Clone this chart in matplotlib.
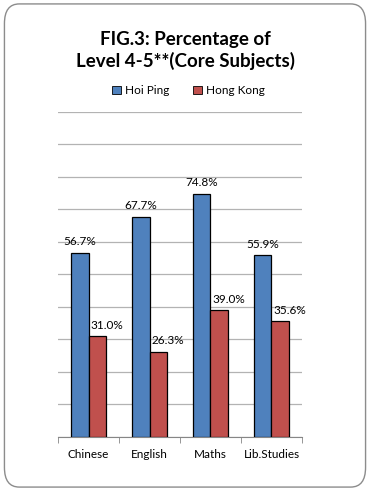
import numpy as np
import matplotlib.pyplot as plt
import matplotlib.patches as mpatches
from matplotlib.patches import FancyBboxPatch

# ── Data ───────────────────────────────────────────────────────────────────
categories = ["Chinese", "English", "Maths", "Lib.Studies"]
hoi_ping   = [56.7, 67.7, 74.8, 55.9]
hong_kong  = [31.0, 26.3, 39.0, 35.6]

BLUE  = "#4f81bd"
RED   = "#c0504d"
GRID  = "#b3b3b3"
TEXT  = "#000000"

plt.rcParams["font.family"] = ["Lato", "DejaVu Sans"]

fig = plt.figure(figsize=(3.7, 4.91), dpi=100)
ax = fig.add_axes([0.157, 0.110, 0.659, 0.662])

# rounded chart border
border = FancyBboxPatch((0.012, 0.008), 0.976, 0.984,
                        boxstyle="round,pad=0,rounding_size=0.04",
                        transform=fig.transFigure, facecolor="white",
                        edgecolor="#8c8c8c", linewidth=1.0, zorder=-10)
fig.patches.append(border)
ax.set_facecolor("none")

x = np.arange(len(categories))
w = 0.29
b1 = ax.bar(x - w / 2, hoi_ping, w, color=BLUE, edgecolor="black",
            linewidth=0.9, label="Hoi Ping", zorder=3)
b2 = ax.bar(x + w / 2, hong_kong, w, color=RED, edgecolor="black",
            linewidth=0.9, label="Hong Kong", zorder=3)

for rect, v in zip(b1, hoi_ping):
    ax.annotate(f"{v:.1f}%", (rect.get_x() + rect.get_width() / 2, v),
                xytext=(0, 4), textcoords="offset points",
                ha="center", va="bottom", fontsize=8.5, color=TEXT)
for rect, v in zip(b2, hong_kong):
    ax.annotate(f"{v:.1f}%", (rect.get_x() + rect.get_width() / 2, v),
                xytext=(7, 4), textcoords="offset points",
                ha="center", va="bottom", fontsize=8.5, color=TEXT)

ax.set_xlim(-0.5, len(categories) - 0.5)
ax.set_ylim(0, 100)
ax.set_yticks(np.arange(0, 101, 10))
ax.yaxis.grid(True, color=GRID, linewidth=0.9, zorder=0)
ax.tick_params(axis="y", left=False, labelleft=False)

ax.set_xticks(x)
ax.set_xticklabels(categories, fontsize=8.5)
ax.set_xticks(np.arange(-0.5, len(categories)), minor=True)
ax.tick_params(axis="x", which="major", length=0, pad=9)
ax.tick_params(axis="x", which="minor", length=4, color="#868686",
               direction="out")

for side in ["top", "right", "left"]:
    ax.spines[side].set_visible(False)
ax.spines["bottom"].set_color("#868686")

fig.text(0.5, 0.897, "FIG.3: Percentage of\nLevel 4-5**(Core Subjects)",
         ha="center", va="center", fontsize=13.5, fontweight="bold",
         linespacing=1.25)

handles = [mpatches.Patch(facecolor=BLUE, edgecolor="black", linewidth=0.6,
                          label="Hoi Ping"),
           mpatches.Patch(facecolor=RED, edgecolor="black", linewidth=0.6,
                          label="Hong Kong")]
fig.legend(handles=handles, loc="center", bbox_to_anchor=(0.51, 0.815),
           ncol=2, frameon=False, fontsize=8.5, handlelength=0.7,
           handleheight=0.7, handletextpad=0.4, columnspacing=2.0)

fig.savefig("out.png", dpi=100)
